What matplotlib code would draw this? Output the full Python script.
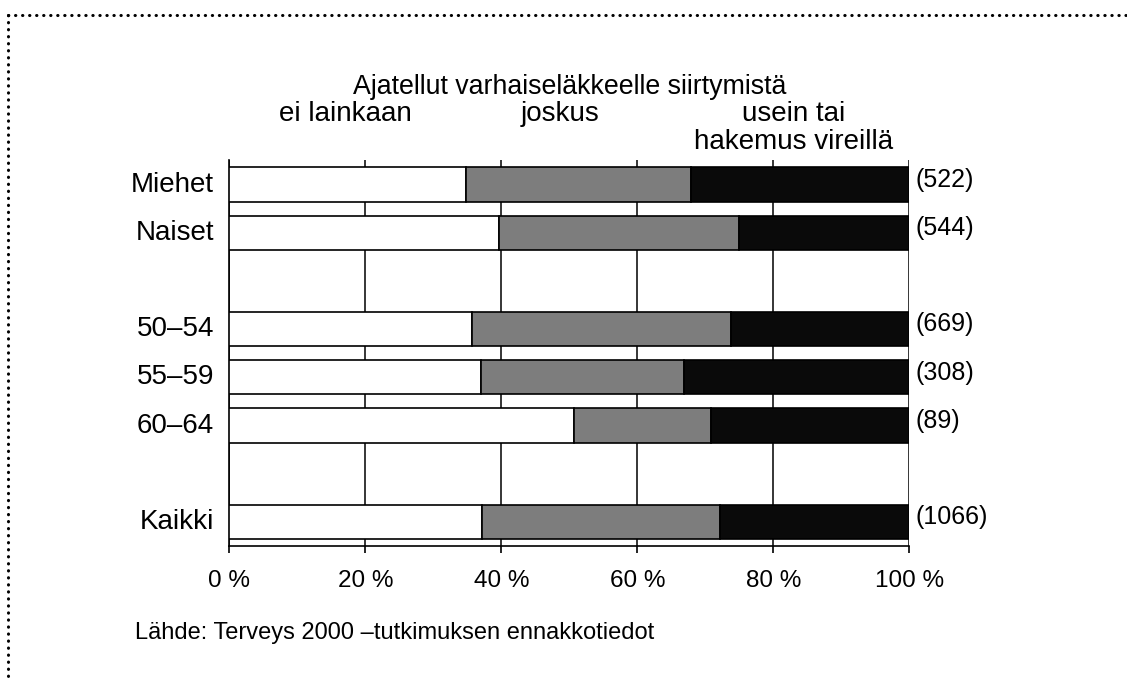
import matplotlib.pyplot as plt
from matplotlib.lines import Line2D

plt.rcParams['font.family'] = ['Liberation Sans', 'DejaVu Sans']

# data
groups = ['Miehet', 'Naiset', '50–54', '55–59', '60–64', 'Kaikki']
positions = [0, 1, 3, 4, 5, 7]
n_labels = ['(522)', '(544)', '(669)', '(308)', '(89)', '(1066)']
ei_lainkaan = [34.8, 39.7, 35.7, 37.0, 50.7, 37.1]
joskus = [33.1, 35.2, 38.1, 29.9, 20.2, 35.0]
usein = [32.1, 25.1, 26.2, 33.1, 29.1, 27.9]
cat_labels = ['ei lainkaan', 'joskus', 'usein tai\nhakemus vireillä']
cat_x = [17, 48.6, 83]
colors = ['white', '#7d7d7d', '#0a0a0a']

fig = plt.figure(figsize=(11.27, 6.8), dpi=100)
ax = fig.add_axes([0.2035, 0.197, 0.6033, 0.5677])

left = [0] * len(groups)
for vals, c in zip([ei_lainkaan, joskus, usein], colors):
    ax.barh(positions, vals, left=left, height=0.71, color=c,
            edgecolor='black', linewidth=1.2, zorder=3)
    left = [a + b for a, b in zip(left, vals)]

ax.set_xlim(0, 100)
ax.set_ylim(7.5, -0.51)
ax.set_xticks([0, 20, 40, 60, 80, 100])
ax.set_xticklabels(['0 %', '20 %', '40 %', '60 %', '80 %', '100 %'], fontsize=17.5)
ax.tick_params(axis='x', length=5, width=1.2, pad=12, color='black')
ax.set_yticks(positions)
ax.set_yticklabels(groups, fontsize=20)
ax.tick_params(axis='y', length=0, pad=11)
for lbl in ax.get_yticklabels():
    lbl.set_verticalalignment('center')

# gridlines
ax.grid(axis='x', color='black', linewidth=1.1, zorder=0)
ax.set_axisbelow(True)
for s in ['top', 'right']:
    ax.spines[s].set_visible(False)
ax.spines['left'].set_linewidth(1.2)
ax.spines['bottom'].set_linewidth(1.2)

# n labels on right
for p, t in zip(positions, n_labels):
    ax.text(100.9, p - 0.1, t, fontsize=18, ha='left', va='center')

# headers
ax.text(50, 1.19, 'Ajatellut varhaiseläkkeelle siirtymistä',
        transform=ax.get_xaxis_transform(), ha='center', va='center',
        fontsize=19.3)
for x, t in zip(cat_x, cat_labels):
    ax.text(x, 1.152, t, transform=ax.get_xaxis_transform(), ha='center',
            va='top', fontsize=20, linespacing=1.08)

fig.text(135 / 1127, 1 - 633 / 680, 'Lähde: Terveys 2000 –tutkimuksen ennakkotiedot',
         ha='left', va='center', fontsize=17)

# dotted frame
dots = dict(color='black', linewidth=2.2, linestyle=(0, (0.1, 2.2)),
            dash_capstyle='round', transform=fig.transFigure)
fig.add_artist(Line2D([8 / 1127, 1.0], [1 - 15 / 680, 1 - 15 / 680], **dots))
fig.add_artist(Line2D([8 / 1127, 8 / 1127], [1 - 15 / 680, 0.0], **dots))

fig.savefig('out.png', dpi=100)
